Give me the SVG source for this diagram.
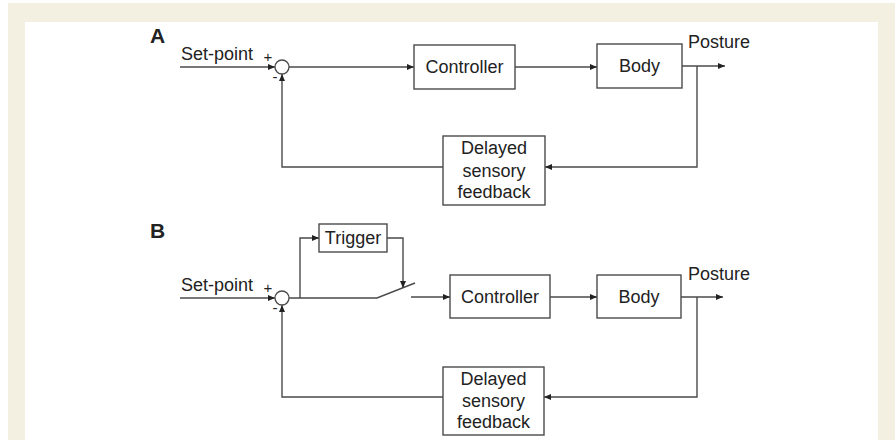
<svg xmlns="http://www.w3.org/2000/svg" width="895" height="440" viewBox="0 0 895 440">
  <style>
    .frame { fill: #f3efe1; }
    .panel { fill: #ffffff; }
    .box { fill: #ffffff; stroke: #4a4a4a; stroke-width: 1.4; }
    .sum { fill: #ffffff; stroke: #4a4a4a; stroke-width: 1.3; }
    .wire { fill: none; stroke: #4a4a4a; stroke-width: 1.4; }
    .arrow { marker-end: url(#head); }
    text { font-family: "Liberation Sans", Arial, sans-serif; fill: #222222; }
    .lbl { font-size: 18px; }
    .mid { text-anchor: middle; }
    .sign { font-size: 15px; }
    .panelId { font-size: 21px; font-weight: bold; }
  </style>
  <defs>
    <marker id="head" markerUnits="userSpaceOnUse" markerWidth="8" markerHeight="7" refX="7" refY="3" orient="auto">
      <path d="M0,0 L7,3 L0,6 z" fill="#222222"/>
    </marker>
  </defs>

  <!-- page frame -->
  <rect class="frame" x="8" y="3" width="887" height="437"/>
  <rect class="panel" x="25" y="22" width="853" height="418"/>

  <!-- ===== Panel A ===== -->
  <text class="panelId" x="150" y="43">A</text>

  <g id="a-connectors">
    <path class="wire arrow" d="M180,67 H275"/>
    <path class="wire arrow" d="M289,67 H414"/>
    <path class="wire arrow" d="M515,67 H597"/>
    <path class="wire arrow" d="M682,66 H725"/>
    <path class="wire arrow" d="M697,66 V167 H545"/>
    <path class="wire arrow" d="M443,167 H282 V74"/>
  </g>

  <g id="a-setpoint">
    <text class="lbl" x="181" y="60">Set-point</text>
  </g>
  <g id="a-sum">
    <circle class="sum" cx="282" cy="67" r="7"/>
    <text class="sign mid" x="268" y="62">+</text>
    <text class="sign mid" x="275" y="82">-</text>
  </g>
  <g id="a-controller">
    <rect class="box" x="414" y="45" width="101" height="44"/>
    <text class="lbl mid" x="464.5" y="73">Controller</text>
  </g>
  <g id="a-body">
    <rect class="box" x="597" y="44" width="85" height="44"/>
    <text class="lbl mid" x="639.5" y="72">Body</text>
  </g>
  <g id="a-posture">
    <text class="lbl" x="688" y="48">Posture</text>
  </g>
  <g id="a-feedback">
    <rect class="box" x="443" y="136" width="102" height="69"/>
    <text class="lbl mid" x="494" y="154">Delayed</text>
    <text class="lbl mid" x="494" y="177">sensory</text>
    <text class="lbl mid" x="494" y="198">feedback</text>
  </g>

  <!-- ===== Panel B ===== -->
  <text class="panelId" x="150" y="238">B</text>

  <g id="b-connectors">
    <path class="wire arrow" d="M180,298 H275"/>
    <path class="wire" d="M289,298 H377 L415,283"/>
    <path class="wire arrow" d="M300,298 V238 H319"/>
    <path class="wire arrow" d="M387,238 H403 V288"/>
    <path class="wire arrow" d="M411,297 H450"/>
    <path class="wire arrow" d="M550,297 H597"/>
    <path class="wire arrow" d="M681,297 H723"/>
    <path class="wire arrow" d="M697,297 V397 H544"/>
    <path class="wire arrow" d="M443,397 H282 V305"/>
  </g>

  <g id="b-setpoint">
    <text class="lbl" x="181" y="291">Set-point</text>
  </g>
  <g id="b-sum">
    <circle class="sum" cx="282" cy="298" r="7"/>
    <text class="sign mid" x="268" y="293">+</text>
    <text class="sign mid" x="275" y="313">-</text>
  </g>
  <g id="b-trigger">
    <rect class="box" x="319" y="224" width="68" height="28"/>
    <text class="lbl mid" x="353" y="244">Trigger</text>
  </g>
  <g id="b-controller">
    <rect class="box" x="450" y="275" width="100" height="43"/>
    <text class="lbl mid" x="500" y="303">Controller</text>
  </g>
  <g id="b-body">
    <rect class="box" x="597" y="275" width="84" height="43"/>
    <text class="lbl mid" x="639" y="303">Body</text>
  </g>
  <g id="b-posture">
    <text class="lbl" x="688" y="280">Posture</text>
  </g>
  <g id="b-feedback">
    <rect class="box" x="443" y="367" width="101" height="68"/>
    <text class="lbl mid" x="493.5" y="385">Delayed</text>
    <text class="lbl mid" x="493.5" y="407">sensory</text>
    <text class="lbl mid" x="493.5" y="428">feedback</text>
  </g>
</svg>
